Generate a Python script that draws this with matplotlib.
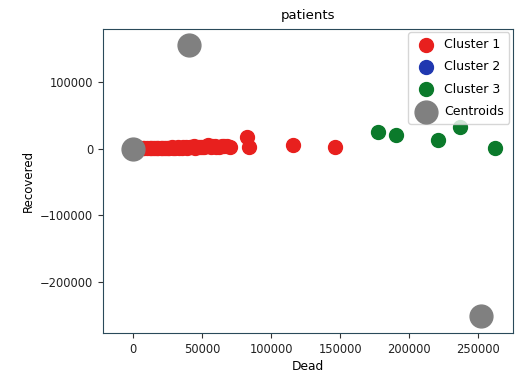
import matplotlib
matplotlib.use("Agg")
import matplotlib.pyplot as plt

# Cluster 1 (red)
c1_dead = [3000, 5000, 7000, 8000, 10000, 12000, 13000, 14000, 16000, 17000, 18000,
           20000, 21000, 22000, 24000, 25000, 26000, 28000, 29000, 30000, 32000,
           33000, 35000, 36000, 38000, 39000, 41000, 42000, 44000, 45000, 47000,
           48000, 50000, 51000, 53000, 54000, 56000, 57000, 59000, 60000, 62000,
           64000, 66000, 68000, 70000, 82000, 84000, 116000, 146000]
c1_rec = [500, 800, 600, 1000, 600, 1200, 500, 900, 1500, 800, 700,
          1000, 600, 1300, 800, 1200, 1500, 2000, 900, 1000, 2500,
          1200, 1500, 2200, 3000, 1500, 2000, 2800, 3500, 1800, 2500,
          3200, 3000, 2000, 4000, 5000, 2500, 3500, 4500, 2800, 3000,
          4000, 3500, 4000, 2500, 17000, 3000, 6000, 3000]
# Cluster 2 (blue) - no visible points
c2_dead = []
c2_rec = []
# Cluster 3 (green)
c3_dead = [177500, 190000, 221000, 237000, 262000]
c3_rec = [25000, 20000, 13000, 33000, 1500]
# Centroids
cen_dead = [0, 40000, 252000]
cen_rec = [0, 155000, -251000]

fig = plt.figure(figsize=(5.15, 3.77), dpi=100)
ax = fig.add_axes([0.2, 0.117, 0.796, 0.807])

ax.scatter(c1_dead, c1_rec, s=100, c='#e8201e', label='Cluster 1')
ax.scatter(c2_dead, c2_rec, s=100, c='#2038b0', label='Cluster 2')
ax.scatter(c3_dead, c3_rec, s=100, c='#0b7a2b', label='Cluster 3')
ax.scatter(cen_dead, cen_rec, s=270, c='#808080', label='Centroids')

ax.set_xlim(-22000, 275000)
ax.set_ylim(-276000, 180000)
ax.set_xticks([0, 50000, 100000, 150000, 200000, 250000])
ax.set_yticks([-200000, -100000, 0, 100000])
ax.tick_params(labelsize=8.3, colors='#333333', labelcolor='#222222', length=3.5)
for sp in ax.spines.values():
    sp.set_color('#2a4a5a')
ax.set_xlabel('Dead', fontsize=8.8, labelpad=3)
ax.set_ylabel('Recovered', fontsize=8.5)
ax.set_title('patients', fontsize=9.5, pad=7)
ax.legend(loc='upper right', fontsize=9, framealpha=0.8, borderpad=0.45,
          handletextpad=0.4, labelspacing=0.75, borderaxespad=0.3)

fig.savefig('out.png', dpi=100)
